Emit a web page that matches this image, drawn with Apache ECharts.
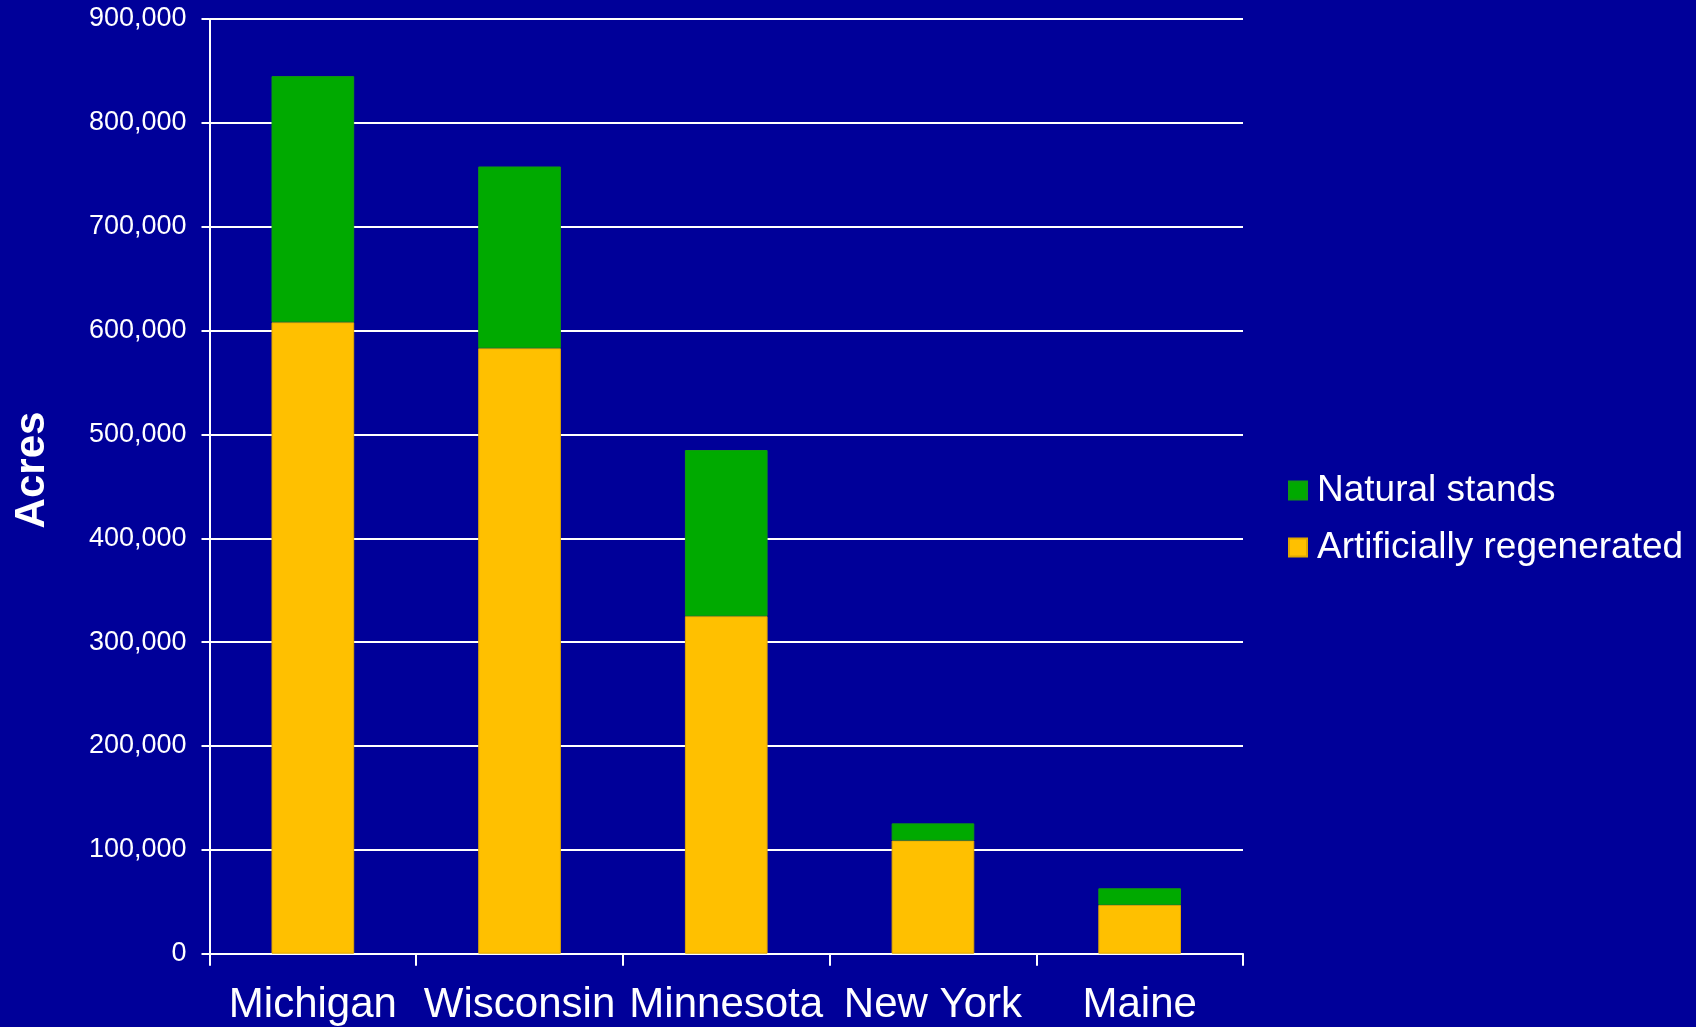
<!DOCTYPE html>
<html>
<head>
<meta charset="utf-8">
<title>Acres by state</title>
<script src="https://cdn.jsdelivr.net/npm/echarts@6/dist/echarts.min.js"></script>
<style>
  html, body { margin: 0; padding: 0; background: #000099; }
  #chart { width: 1696px; height: 1027px; }
</style>
</head>
<body>
<div id="chart"></div>
<script>
// States shown along the x axis
const states = ['Michigan', 'Wisconsin', 'Minnesota', 'New York', 'Maine'];
// Acres, stacked: artificially regenerated at the bottom, natural stands on top
const artificiallyRegenerated = [608000, 583000, 325000, 109000, 47000];
const naturalStands = [237000, 175000, 160000, 16500, 16000];
// Value axis ticks
const yTicks = [0, 100000, 200000, 300000, 400000, 500000, 600000, 700000, 800000, 900000];

const FONT = "'Liberation Sans', Arial, sans-serif";
const WHITE = '#ffffff';

const chart = echarts.init(document.getElementById('chart'), null, { renderer: 'canvas' });

const fmt = v => String(v).replace(/\B(?=(\d{3})+(?!\d))/g, ',');

chart.setOption({
  backgroundColor: '#000099',
  animation: false,
  grid: { left: 209.5, right: 453, top: 19, bottom: 73.3, containLabel: false },
  legend: {
    orient: 'vertical',
    left: 1288,
    top: 472,
    padding: 0,
    itemWidth: 18,
    itemHeight: 18,
    itemGap: 20,
    icon: 'rect',
    data: ['Natural stands', 'Artificially regenerated'],
    textStyle: { color: WHITE, fontFamily: FONT, fontSize: 37, lineHeight: 37, padding: [0, 0, 0, 5] }
  },
  graphic: [{
    type: 'text',
    x: 32,
    y: 470,
    rotation: Math.PI / 2,
    style: {
      text: 'Acres',
      fill: WHITE,
      font: 'bold 42px ' + FONT,
      textAlign: 'center',
      textVerticalAlign: 'middle'
    }
  }],
  xAxis: {
    type: 'category',
    data: states,
    boundaryGap: true,
    axisLine: { lineStyle: { color: WHITE, width: 2 } },
    axisTick: { show: true, length: 12, lineStyle: { color: WHITE, width: 2 } },
    axisLabel: { color: WHITE, fontFamily: FONT, fontSize: 42, margin: 31, interval: 0 },
    splitLine: { show: false }
  },
  yAxis: {
    type: 'value',
    min: yTicks[0],
    max: yTicks[yTicks.length - 1],
    interval: yTicks[1] - yTicks[0],
    axisLine: { show: true, lineStyle: { color: WHITE, width: 2 } },
    axisTick: { show: true, length: 8, lineStyle: { color: WHITE, width: 2 } },
    axisLabel: { color: WHITE, fontFamily: FONT, fontSize: 27, margin: 23, formatter: fmt },
    splitLine: { show: true, lineStyle: { color: WHITE, width: 2 } }
  },
  series: [
    {
      name: 'Artificially regenerated',
      type: 'bar',
      stack: 'acres',
      data: artificiallyRegenerated,
      barWidth: '40%',
      itemStyle: { color: '#FFC000', borderColor: '#E0A800', borderWidth: 1 }
    },
    {
      name: 'Natural stands',
      type: 'bar',
      stack: 'acres',
      data: naturalStands,
      barWidth: '40%',
      itemStyle: { color: '#00AA00', borderColor: '#119911', borderWidth: 1 }
    }
  ]
});
</script>
</body>
</html>
